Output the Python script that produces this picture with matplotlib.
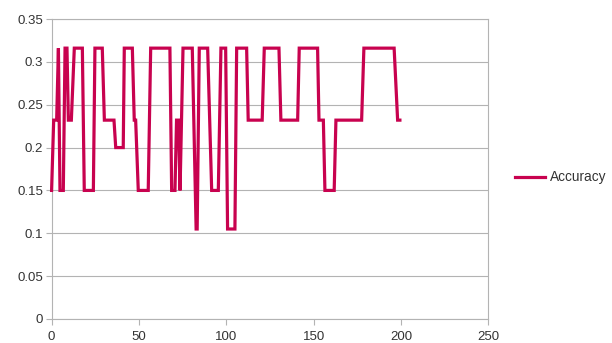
import matplotlib
matplotlib.use('Agg')
import matplotlib.pyplot as plt

# turning points of the accuracy line
step = [0, 1.2, 2.9, 3.9, 4.8, 6.7, 7.7, 8.8, 9.6, 11.3, 13.0, 17.6, 18.7, 23.9, 24.8, 29.0,
        30.2, 35.7, 36.7, 41.0, 41.6, 46.2, 47.3, 48.1, 49.6, 55.3, 56.7, 67.7, 68.7, 70.6,
        71.5, 72.6, 73.5, 75.2, 80.5, 82.7, 83.3, 84.5, 89.3, 91.6, 95.4, 96.9, 99.6, 100.7,
        104.9, 105.9, 111.6, 112.5, 120.5, 121.7, 130.1, 131.2, 140.8, 141.7, 152.2, 153.0,
        155.5, 156.4, 161.7, 162.7, 177.4, 178.7, 196.0, 198.0, 199.3]
accuracy = [0.15, 0.232, 0.232, 0.316, 0.15, 0.15, 0.316, 0.316, 0.232, 0.232, 0.316, 0.316,
            0.15, 0.15, 0.316, 0.316, 0.232, 0.232, 0.2, 0.2, 0.316, 0.316, 0.232, 0.232,
            0.15, 0.15, 0.316, 0.316, 0.15, 0.15, 0.232, 0.232, 0.15, 0.316, 0.316, 0.105,
            0.105, 0.316, 0.316, 0.15, 0.15, 0.316, 0.316, 0.105, 0.105, 0.316, 0.316, 0.232,
            0.232, 0.316, 0.316, 0.232, 0.232, 0.316, 0.316, 0.232, 0.232, 0.15, 0.15, 0.232,
            0.232, 0.316, 0.316, 0.232, 0.232]

x_ticks = [0, 50, 100, 150, 200, 250]
y_ticks = [0, 0.05, 0.1, 0.15, 0.2, 0.25, 0.3, 0.35]
y_labels = ['0', '0.05', '0.1', '0.15', '0.2', '0.25', '0.3', '0.35']

plt.rcParams['font.family'] = 'Liberation Sans'

fig = plt.figure(figsize=(6.12, 3.43), dpi=100)
ax = fig.add_axes([0.0843, 0.070, 0.7139, 0.8746])

line, = ax.plot(step, accuracy, color='#c8024f', linewidth=2.3, solid_joinstyle='miter',
                label='Accuracy', clip_on=False, zorder=3)

ax.set_xlim(0, 250)
ax.set_ylim(0, 0.35)
ax.set_xticks(x_ticks)
ax.set_yticks(y_ticks)
ax.set_yticklabels(y_labels)
ax.yaxis.grid(True, color='#b3b3b3', linewidth=0.8)
ax.set_axisbelow(True)
for s in ax.spines.values():
    s.set_color('#b3b3b3')
    s.set_linewidth(0.8)
ax.tick_params(colors='#b3b3b3', labelcolor='#333333', labelsize=9.5, length=4, width=0.8, pad=2)
ax.tick_params(axis='x', pad=5)

fig.legend(handles=[line], loc='center left', bbox_to_anchor=(0.8215, 0.483), frameon=False,
           fontsize=9.8, handlelength=2.2, handletextpad=0.37, borderpad=0.4,
           labelcolor='#333333')

fig.savefig('out.png', dpi=100)
